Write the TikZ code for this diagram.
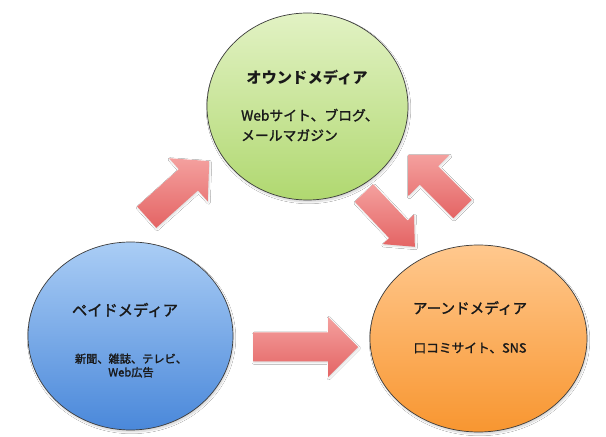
\documentclass[tikz,border=0pt]{standalone}
\usepackage{fontspec}
\newfontfamily\jp{Noto Sans CJK JP}
\newfontfamily\jpm[RawFeature={embolden=1.6}]{Noto Sans CJK JP}
\usetikzlibrary{shapes.geometric,shadows.blur}
\definecolor{arrowlight}{RGB}{244,160,158}
\definecolor{arrowdark}{RGB}{228,100,100}
\definecolor{greentop}{RGB}{226,242,196}
\definecolor{greenbot}{RGB}{176,216,112}
\definecolor{bluetop}{RGB}{170,205,245}
\definecolor{bluebot}{RGB}{74,136,218}
\definecolor{orangetop}{RGB}{255,200,142}
\definecolor{orangebot}{RGB}{248,150,48}
\definecolor{rim}{RGB}{60,60,60}
\tikzset{
  mediacircle/.style={ellipse, draw=rim, line width=0.7pt, inner sep=0pt,
    blur shadow={shadow xshift=1pt, shadow yshift=-2pt, shadow opacity=18, shadow blur steps=6}},
  titletext/.style={font=\jpm\fontsize{15.3}{18}\selectfont, text=black!90, inner sep=0pt},
  subtext/.style={font=\jpm\fontsize{13.8}{20}\selectfont, text=black!90, inner sep=0pt},
  blockarrowstyle/.style={top color=arrowlight, bottom color=arrowdark, draw=none,
    blur shadow={shadow xshift=0.8pt, shadow yshift=-1.2pt, shadow opacity=15, shadow blur steps=4}}
}
% #1 x, #2 y, #3 angle, #4 length, #5 shaft half width, #6 head half width, #7 head length
\newcommand\blkarrow[7]{%
  \begin{scope}[shift={(#1,#2)}, rotate=#3]
    \shade[blockarrowstyle] (0,-#5) -- ({#4-#7},-#5) -- ({#4-#7},-#6) -- (#4,0)
      -- ({#4-#7},#6) -- ({#4-#7},#5) -- (0,#5) -- cycle;
  \end{scope}}
\begin{document}
\begin{tikzpicture}[x=1pt,y=1pt]
\useasboundingbox (0,0) rectangle (606,437);
\fill[white] (0,0) rectangle (606,437);

% circles
\node[mediacircle, top color=greentop, bottom color=greenbot,
      minimum width=201pt, minimum height=187pt] (owned) at (307.5,330.5) {};
\node[mediacircle, top color=bluetop, bottom color=bluebot,
      minimum width=205pt, minimum height=188pt] (paid) at (130.5,101) {};
\node[mediacircle, top color=orangetop, bottom color=orangebot,
      minimum width=217pt, minimum height=187pt] (earned) at (478.5,98.5) {};

% texts
\node[titletext, font=\jp\bfseries\fontsize{15.3}{18}\selectfont] (ownedtitle) at (307,359) {オウンドメディア};
\node[subtext, align=left, anchor=west] (ownedsub) at (241,312)
  {Webサイト、ブログ、\\メールマガジン};

\node[titletext] (paidtitle) at (125,127) {ペイドメディア};
\node[subtext, font=\jpm\fontsize{11.2}{13.5}\selectfont, align=center] (paidsub) at (131,71.5)
  {新聞、雑誌、テレビ、\\Web広告};

\node[titletext, font=\jpm\fontsize{14.6}{17}\selectfont] (earnedtitle) at (470,129) {アーンドメディア};
\node[subtext, font=\jpm\fontsize{12.7}{15}\selectfont] (earnedsub) at (470,89) {口コミサイト、SNS};

% block arrows
\blkarrow{146.7}{219.8}{41.9}{84}{14.3}{29}{28}
\blkarrow{253}{90}{0}{105}{14.5}{30}{30}
\blkarrow{364}{244}{-46.6}{74}{12.7}{21.5}{24}
\blkarrow{462.5}{228}{135}{76.5}{13}{29}{29}
\end{tikzpicture}
\end{document}
